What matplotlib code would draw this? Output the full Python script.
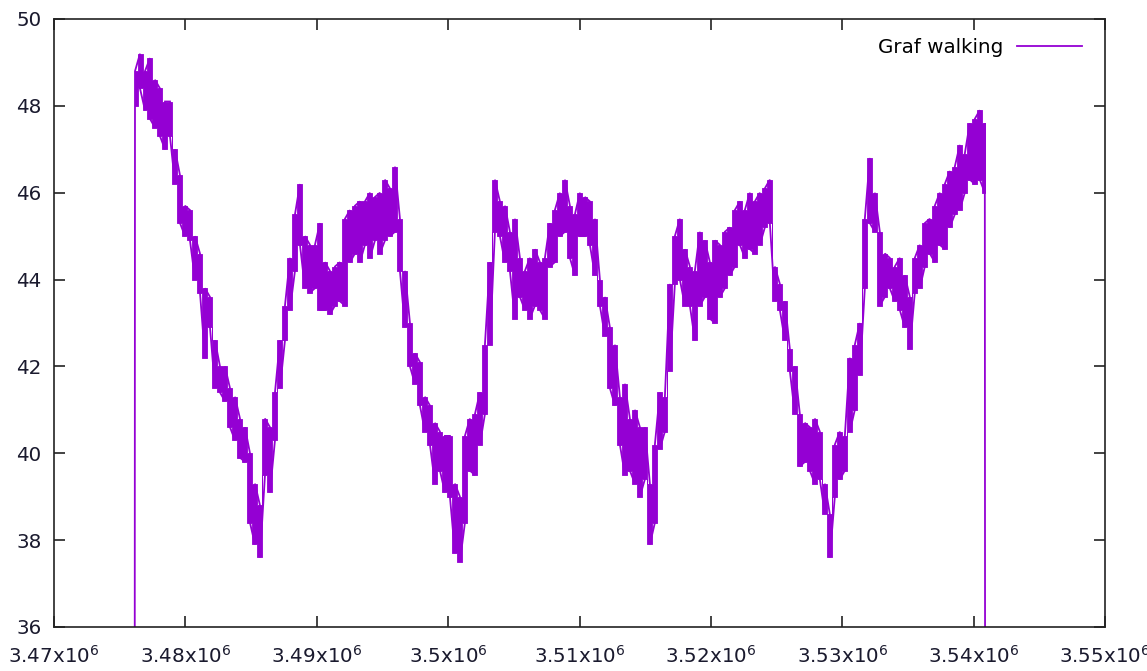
import numpy as np
import matplotlib
matplotlib.use("Agg")
import matplotlib.pyplot as plt
from matplotlib.ticker import FixedLocator, FixedFormatter

# ---- data -----------------------------------------------------------------
series_label = "Graf walking"
x_first = 3476164.0      # first sample time
x_last = 3540849.0       # last sample time
x_start_drop = 3476088.0 # leading sample (value outside range)
x_end_drop = 3540925.0   # trailing sample (value outside range)
drop_value = 0.0

# per-sample lower / upper values of the noisy trace (evenly spaced samples)
y_lo = [48.0, 48.4, 47.9, 47.7, 47.5, 47.3, 47.0, 47.3, 46.2, 45.3,
        45.0, 44.9, 44.0, 43.7, 42.2, 42.9, 41.5, 41.4, 41.2, 40.6,
        40.3, 39.9, 39.8, 38.4, 37.9, 37.6, 39.5, 39.1, 40.3, 41.5,
        42.6, 43.3, 44.2, 44.8, 43.8, 43.7, 43.8, 43.3, 43.3, 43.2,
        43.4, 43.5, 43.4, 44.4, 44.6, 44.4, 44.8, 44.5, 44.9, 44.6,
        44.9, 45.0, 45.1, 44.2, 42.9, 42.0, 41.6, 41.1, 40.5, 40.2,
        39.3, 39.6, 39.1, 39.0, 37.7, 37.5, 38.4, 39.6, 39.5, 40.2,
        40.9, 42.5, 45.1, 45.0, 44.4, 44.2, 43.1, 43.6, 43.3, 43.1,
        43.4, 43.3, 43.1, 44.3, 44.4, 45.0, 45.1, 44.5, 44.1, 45.0,
        45.0, 44.8, 44.1, 43.4, 42.7, 41.5, 41.1, 40.2, 39.5, 39.6,
        39.3, 39.0, 39.4, 37.9, 38.4, 40.1, 40.5, 41.9, 43.9, 44.0,
        43.4, 43.4, 42.6, 43.4, 43.6, 43.1, 43.0, 43.6, 43.8, 44.1,
        44.3, 44.8, 44.5, 44.7, 44.6, 44.8, 45.2, 45.3, 43.5, 43.3,
        42.6, 41.9, 40.9, 39.7, 39.8, 39.6, 39.3, 39.4, 38.6, 37.6,
        39.0, 39.4, 39.6, 40.5, 41.0, 41.8, 43.8, 45.3, 45.1, 43.4,
        43.6, 43.8, 43.5, 43.3, 42.9, 42.4, 43.7, 43.8, 44.3, 44.6,
        44.4, 44.8, 44.7, 45.2, 45.5, 45.6, 46.0, 46.3, 46.2, 46.3,
        46.0]
y_hi = [48.8, 49.2, 48.8, 49.1, 48.6, 48.4, 48.1, 48.1, 47.0, 46.4,
        45.7, 45.6, 45.0, 44.6, 43.8, 43.6, 42.6, 42.0, 42.0, 41.5,
        41.3, 40.8, 40.6, 40.0, 39.3, 38.8, 40.8, 40.6, 41.4, 42.6,
        43.4, 44.5, 45.5, 46.2, 45.0, 44.8, 44.8, 45.3, 44.4, 44.2,
        44.3, 44.4, 45.4, 45.6, 45.7, 45.8, 45.8, 46.0, 45.9, 46.0,
        46.3, 46.1, 46.6, 45.4, 44.2, 43.0, 42.3, 42.1, 41.3, 41.1,
        40.7, 40.5, 40.4, 40.4, 39.3, 39.0, 40.4, 40.8, 40.9, 41.4,
        42.5, 44.4, 46.3, 45.8, 45.7, 45.1, 45.4, 44.5, 44.2, 44.5,
        44.7, 44.4, 44.5, 45.3, 45.6, 46.0, 46.3, 45.7, 45.5, 46.0,
        45.9, 45.8, 45.4, 44.0, 43.6, 42.9, 42.5, 41.3, 41.6, 40.8,
        41.0, 40.6, 40.6, 39.3, 40.2, 41.4, 41.3, 43.9, 45.0, 45.4,
        44.7, 44.3, 44.2, 45.1, 44.9, 44.4, 44.9, 44.8, 45.1, 45.2,
        45.6, 45.8, 45.6, 46.0, 45.8, 46.0, 46.1, 46.3, 44.3, 43.9,
        43.5, 42.4, 42.0, 40.9, 40.7, 40.6, 40.8, 40.5, 39.3, 38.6,
        40.2, 40.5, 40.4, 42.2, 42.5, 43.0, 45.4, 46.8, 46.0, 45.1,
        44.6, 44.5, 44.3, 44.5, 44.1, 43.6, 44.5, 44.8, 45.3, 45.4,
        45.7, 46.0, 46.2, 46.5, 46.6, 47.1, 46.9, 47.6, 47.7, 47.9,
        47.6]

x_ticks = [3.47e6, 3.48e6, 3.49e6, 3.50e6, 3.51e6, 3.52e6, 3.53e6, 3.54e6, 3.55e6]
x_tick_labels = ["3.47x10$^{6}$", "3.48x10$^{6}$", "3.49x10$^{6}$", "3.5x10$^{6}$",
                 "3.51x10$^{6}$", "3.52x10$^{6}$", "3.53x10$^{6}$", "3.54x10$^{6}$",
                 "3.55x10$^{6}$"]
y_ticks = [36, 38, 40, 42, 44, 46, 48, 50]
y_tick_labels = ["36", "38", "40", "42", "44", "46", "48", "50"]

# ---- build the trace path ----------------------------------------------------
n = min(len(y_lo), len(y_hi))
xs = np.linspace(x_first, x_last, n)
lo = np.array(y_lo[:n])
hi = np.array(y_hi[:n])
path_x = [x_start_drop]
path_y = [drop_value]
for i in range(n):
    path_x += [xs[i], xs[i]]
    if i % 2 == 0:
        path_y += [lo[i], hi[i]]
    else:
        path_y += [hi[i], lo[i]]
path_x.append(x_end_drop)
path_y.append(drop_value)

# ---- draw --------------------------------------------------------------------
plt.rcParams['font.family'] = ['DejaVu Sans']
plt.rcParams['mathtext.fontset'] = 'dejavusans'
fig = plt.figure(figsize=(11.47, 6.71), dpi=100)
ax = fig.add_axes([0.0471, 0.0656, 0.9163, 0.9061])

color = "#9400D3"
# blocky band of the dense noisy trace
ax.fill_between(xs, lo, hi, step='mid', color=color, lw=0.6, edgecolor=color)
ax.plot(path_x, path_y, color=color, lw=1.3, solid_joinstyle='miter',
        label=series_label)

ax.set_xlim(3.47e6, 3.55e6)
ax.set_ylim(36, 50)
ax.xaxis.set_major_locator(FixedLocator(x_ticks))
ax.xaxis.set_major_formatter(FixedFormatter(x_tick_labels))
ax.yaxis.set_major_locator(FixedLocator(y_ticks))
ax.yaxis.set_major_formatter(FixedFormatter(y_tick_labels))

for sp in ax.spines.values():
    sp.set_color("#222222")
    sp.set_linewidth(1.2)
ax.tick_params(axis='both', direction='in', length=8, width=1.2, color="#222222",
               labelsize=14.3, labelcolor="#1a1a2e", top=True, right=True)
ax.tick_params(axis='x', pad=13)
ax.tick_params(axis='y', pad=9)

leg = ax.legend(loc='upper right', frameon=False, fontsize=14.3, markerfirst=False,
                handlelength=3.3, handletextpad=0.7, borderaxespad=0.0,
                bbox_to_anchor=(0.986, 0.982))

fig.savefig("out.png", dpi=100)
